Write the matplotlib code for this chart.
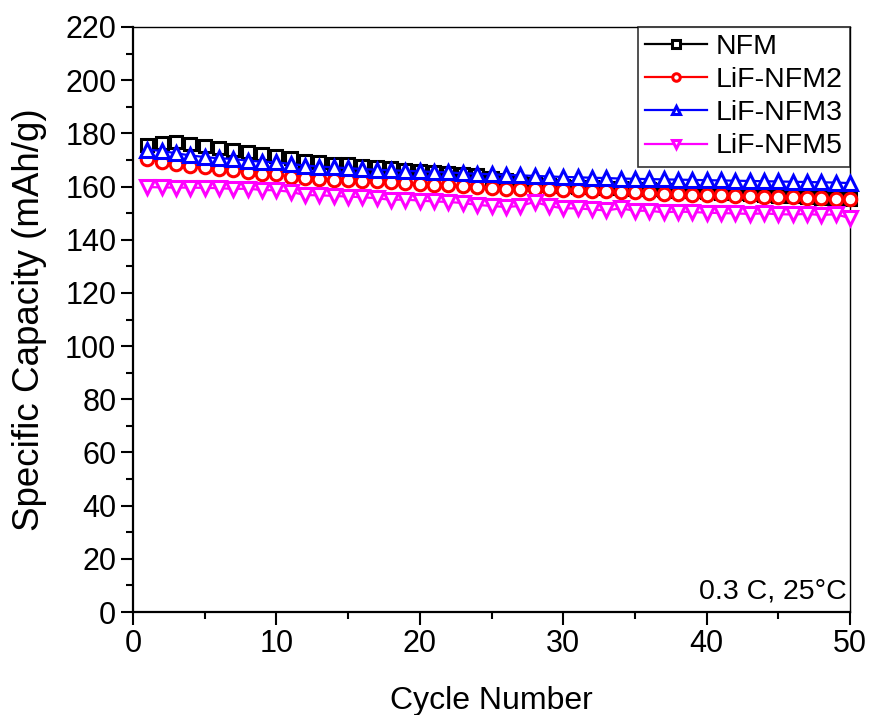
import numpy as np
import matplotlib
matplotlib.use("Agg")
import matplotlib.pyplot as plt
from matplotlib.ticker import MultipleLocator

plt.rcParams['font.family'] = ['Liberation Sans', 'DejaVu Sans']

cycles = list(range(1, 51))

nfm = [175.6, 176.5, 176.6, 176.0, 175.4, 174.6, 173.7, 173.0, 172.2, 171.6,
       170.9, 169.6, 169.1, 168.6, 168.3, 167.9, 167.5, 167.0, 166.4, 165.9,
       165.4, 165.1, 164.8, 164.5, 163.4, 162.4, 161.7, 161.1, 160.6, 160.3,
       160.0, 159.8, 159.6, 159.4, 159.2, 159.0, 158.7, 158.4, 158.2, 158.0,
       157.7, 157.4, 157.1, 156.9, 156.6, 156.3, 156.0, 155.8, 155.5, 155.2]

lif_nfm2 = [170.3, 169.1, 168.4, 167.7, 167.2, 166.6, 166.2, 165.6, 164.9, 164.6,
            163.7, 163.1, 162.7, 162.5, 162.3, 162.1, 161.9, 161.8, 161.4, 161.0,
            160.7, 160.4, 160.1, 159.7, 159.3, 159.2, 159.1, 159.0, 158.9, 158.7,
            158.6, 158.5, 158.3, 158.1, 157.9, 157.7, 157.3, 157.2, 157.0, 156.9,
            156.7, 156.5, 156.3, 156.2, 156.1, 155.9, 155.8, 155.6, 155.5, 155.3]

lif_nfm3 = [173.9, 173.4, 172.5, 171.7, 171.1, 170.6, 170.4, 169.7, 169.4, 169.1,
            168.5, 167.9, 167.5, 167.2, 166.9, 166.6, 166.3, 166.1, 165.9, 165.7,
            165.5, 165.3, 165.0, 164.8, 164.6, 164.4, 164.2, 164.0, 163.8, 163.6,
            163.5, 163.3, 163.2, 163.0, 162.9, 162.8, 162.7, 162.6, 162.5, 162.4,
            162.3, 162.2, 162.1, 162.0, 161.9, 161.8, 161.7, 161.6, 161.5, 161.3]

lif_nfm5 = [159.8, 159.7, 159.6, 159.6, 159.5, 159.4, 159.1, 159.2, 158.7, 158.6,
            158.0, 156.8, 156.7, 156.5, 156.2, 156.0, 155.6, 155.0, 155.1, 154.7,
            154.4, 154.2, 153.8, 153.1, 152.7, 152.3, 152.7, 154.2, 152.7, 151.8,
            151.8, 151.4, 151.0, 151.8, 150.9, 150.9, 150.3, 150.6, 150.4, 150.2,
            150.0, 149.9, 149.7, 149.9, 149.6, 149.5, 149.7, 149.3, 149.6, 148.1]

series = [
    ("NFM", nfm, "black", "s", 8.5),
    ("LiF-NFM2", lif_nfm2, "red", "o", 9.0),
    ("LiF-NFM3", lif_nfm3, "blue", "^", 10.5),
    ("LiF-NFM5", lif_nfm5, "magenta", "v", 10.5),
]

fig = plt.figure(figsize=(8.71, 7.15), dpi=100)
ax = fig.add_axes([133 / 871, 1 - 612 / 715, (850 - 133) / 871, (612 - 27) / 715])

for label, vals, color, marker, ms in series:
    ax.plot(cycles, vals, color=color, marker=marker, markersize=ms,
            markerfacecolor="white", markeredgecolor=color, markeredgewidth=2.2,
            linewidth=1.6, label=label, clip_on=False, zorder=3)

ax.set_xlim(0, 50)
ax.set_ylim(0, 220)
ax.xaxis.set_major_locator(MultipleLocator(10))
ax.xaxis.set_minor_locator(MultipleLocator(5))
ax.yaxis.set_major_locator(MultipleLocator(20))
ax.yaxis.set_minor_locator(MultipleLocator(10))

ax.tick_params(axis="both", which="major", direction="out", length=9, width=1.5,
               labelsize=22, top=False, right=False, pad=3)
ax.tick_params(axis="both", which="minor", direction="out", length=5, width=1.5,
               top=False, right=False)
for side, spine in ax.spines.items():
    spine.set_linewidth(1.6 if side in ("left", "bottom") else 1.0)

ax.set_xlabel("Cycle Number", fontsize=23, labelpad=20)
ax.set_ylabel("Specific Capacity (mAh/g)", fontsize=26.5, labelpad=13)

leg = ax.legend(loc="upper right", prop={"size": 20.5}, frameon=True,
                fancybox=False, edgecolor="black", borderpad=0.25,
                labelspacing=0.25, handlelength=2.2, handletextpad=0.3,
                borderaxespad=0.0, markerscale=0.6)
leg.get_frame().set_linewidth(1.2)

ax.text(0.995, 0.012, "0.3 C, 25\u00b0C", transform=ax.transAxes,
        ha="right", va="bottom", fontsize=20.5)

fig.savefig("out.png", dpi=100)
